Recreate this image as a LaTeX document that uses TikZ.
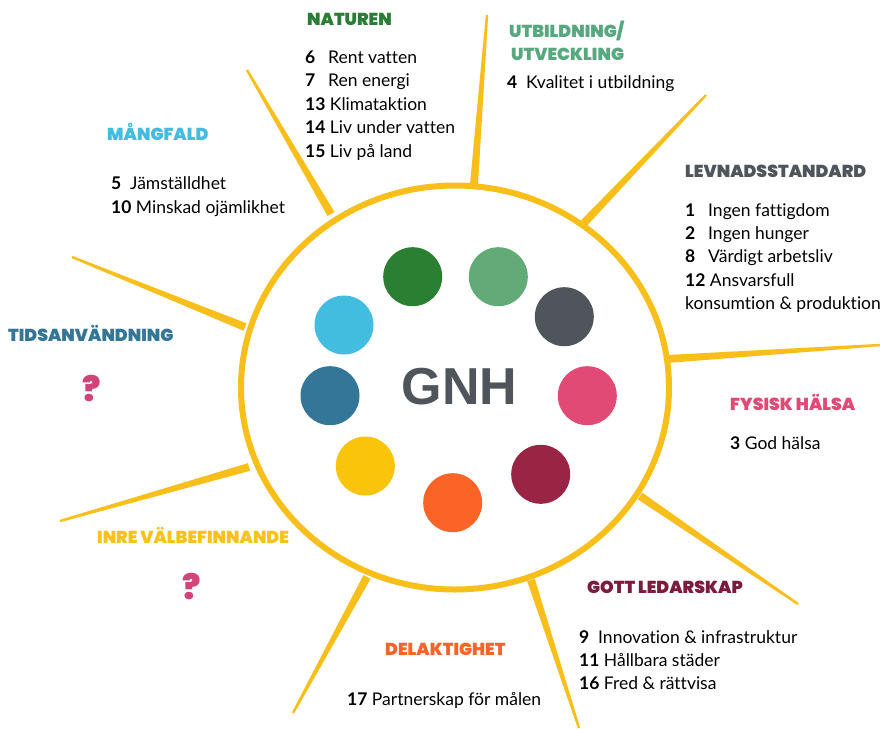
\documentclass[tikz,border=0pt]{standalone}
\usepackage{fontspec}
\setmainfont{Lato}[Ligatures={NoCommon,NoContextual}]
\newfontfamily\headfont{Poppins Black}
\newfontfamily\gnhfont{Liberation Sans}
\usetikzlibrary{calc}
\definecolor{raycol}{HTML}{F8BF1A}
\definecolor{cgreen}{HTML}{2A7F32}
\definecolor{clgreen}{HTML}{62AB76}
\definecolor{cgrey}{HTML}{4F555B}
\definecolor{cpink}{HTML}{E04A75}
\definecolor{cmaroon}{HTML}{9A2444}
\definecolor{corange}{HTML}{FC6427}
\definecolor{cyellow}{HTML}{F9C40A}
\definecolor{cdblue}{HTML}{337697}
\definecolor{clblue}{HTML}{42BDE0}
\definecolor{hgreen}{HTML}{2B7C35}
\definecolor{hlgreen}{HTML}{56A97F}
\definecolor{hmaroon}{HTML}{7C1B3C}
\definecolor{hyellow}{HTML}{F8C21A}
\definecolor{qpink}{HTML}{D0447A}
\newcommand\nm[1]{\textbf{#1}}
\newcommand\nb[2]{\makebox[#1pt][l]{\textbf{#2}}}
\newcommand\sunray[2]{\fill[raycol] ($(#1)!4pt!90:(#2)$) -- ($(#2)!1.2pt!-90:(#1)$) -- ($(#2)!1.2pt!90:(#1)$) -- ($(#1)!4pt!-90:(#2)$) -- cycle;}
\begin{document}
\begin{tikzpicture}[x=1pt,y=-1pt,
  itm/.style={anchor=base west, inner sep=0pt, font=\fontsize{17.5}{19}\selectfont, text=black},
  hd/.style={anchor=base west, inner sep=0pt, font=\headfont\fontsize{17.3}{19}\selectfont},
  dot/.style={circle, inner sep=0pt, minimum size=59pt, draw=none},
  qm/.style={inner sep=0pt, text=qpink, font=\headfont\fontsize{34}{36}\selectfont}]
\useasboundingbox (0,0) rectangle (880,728);
\fill[white] (0,0) rectangle (880,728);
% ray end points
\coordinate (r1a) at (474,184); \coordinate (r1b) at (487,15);
\coordinate (r2a) at (331,214); \coordinate (r2b) at (247,70);
\coordinate (r3a) at (584,223); \coordinate (r3b) at (706,95);
\coordinate (r4a) at (245,327); \coordinate (r4b) at (72,257);
\coordinate (r5a) at (249,467); \coordinate (r5b) at (60,521);
\coordinate (r6a) at (367,577); \coordinate (r6b) at (293,713);
\coordinate (r7a) at (531,580); \coordinate (r7b) at (579,728);
\coordinate (r8a) at (640,496); \coordinate (r8b) at (798,604);
\coordinate (r9a) at (667,359); \coordinate (r9b) at (880,345);
\sunray{r1a}{r1b}
\sunray{r2a}{r2b}
\sunray{r3a}{r3b}
\sunray{r4a}{r4b}
\sunray{r5a}{r5b}
\sunray{r6a}{r6b}
\sunray{r7a}{r7b}
\sunray{r8a}{r8b}
\sunray{r9a}{r9b}
% big circle
\draw[raycol, line width=6pt] (455,387.5) ellipse [x radius=214pt, y radius=202pt];
% dots
\node[dot, fill=cgreen]  (d1) at (412.7,276.7) {};
\node[dot, fill=clgreen] (d2) at (498.3,276.7) {};
\node[dot, fill=cgrey]   (d3) at (564.3,316.7) {};
\node[dot, fill=cpink]   (d4) at (587.3,395.7) {};
\node[dot, fill=cmaroon] (d5) at (540.7,474.3) {};
\node[dot, fill=corange] (d6) at (452.7,502.7) {};
\node[dot, fill=cyellow] (d7) at (365.3,466) {};
\node[dot, fill=cdblue]  (d8) at (330,395.7) {};
\node[dot, fill=clblue]  (d9) at (344,325) {};
\node[inner sep=0pt, text=cgrey, font=\gnhfont\bfseries\fontsize{52}{54}\selectfont] (gnh) at (459.5,387) {GNH};
% NATUREN
\node[hd, text=hgreen] (hnat) at (307,25) {NATUREN};
\node[itm] (n1) at (305,63) {\nb{23}{6}Rent vatten};
\node[itm] (n2) at (305,86) {\nb{23}{7}Ren energi};
\node[itm] (n3) at (305,110) {\nm{13} Klimataktion};
\node[itm] (n4) at (305,133) {\nm{14} Liv under vatten};
\node[itm] (n5) at (305,157) {\nm{15} Liv på land};
% UTBILDNING
\node[hd, text=hlgreen] (hutb1) at (509,37) {UTBILDNING/};
\node[hd, text=hlgreen] (hutb2) at (511,60) {UTVECKLING};
\node[itm] (u1) at (507,88) {\nb{19}{4}Kvalitet i utbildning};
% MÅNGFALD
\node[hd, text=clblue] (hmang) at (107,140) {MÅNGFALD};
\node[itm] (m1) at (111,189) {\nb{19}{5}Jämställdhet};
\node[itm] (m2) at (111,213) {\nm{10} Minskad ojämlikhet};
% LEVNADSSTANDARD
\node[hd, text=cgrey] (hlev) at (685,177) {LEVNADSSTANDARD};
\node[itm] (l1) at (685,216) {\nb{23}{1}Ingen fattigdom};
\node[itm] (l2) at (685,239) {\nb{23}{2}Ingen hunger};
\node[itm] (l3) at (685,262) {\nb{23}{8}Värdigt arbetsliv};
\node[itm] (l4) at (685,286) {\nm{12} Ansvarsfull};
\node[itm] (l5) at (685,309) {konsumtion \& produktion};
% FYSISK HÄLSA
\node[hd, text=cpink] (hfys) at (730,410) {FYSISK HÄLSA};
\node[itm] (f1) at (730,449) {\nm{3} God hälsa};
% TIDSANVÄNDNING
\node[hd, text=cdblue] (htid) at (8,341) {TIDSANVÄNDNING};
\node[qm] (q1) at (92,388) {?};
% INRE VÄLBEFINNANDE
\node[hd, text=hyellow] (hinre) at (97,543) {INRE VÄLBEFINNANDE};
\node[qm] (q2) at (192,586) {?};
% GOTT LEDARSKAP
\node[hd, text=hmaroon] (hgott) at (587,593) {GOTT LEDARSKAP};
\node[itm] (g1) at (579,643) {\nb{19}{9}Innovation \& infrastruktur};
\node[itm] (g2) at (579,666) {\nm{11} Hållbara städer};
\node[itm] (g3) at (579,689) {\nm{16} Fred \& rättvisa};
% DELAKTIGHET
\node[hd, text=corange] (hdel) at (385,655) {DELAKTIGHET};
\node[itm] (p1) at (347,705) {\nm{17} Partnerskap för målen};
\end{tikzpicture}
\end{document}
